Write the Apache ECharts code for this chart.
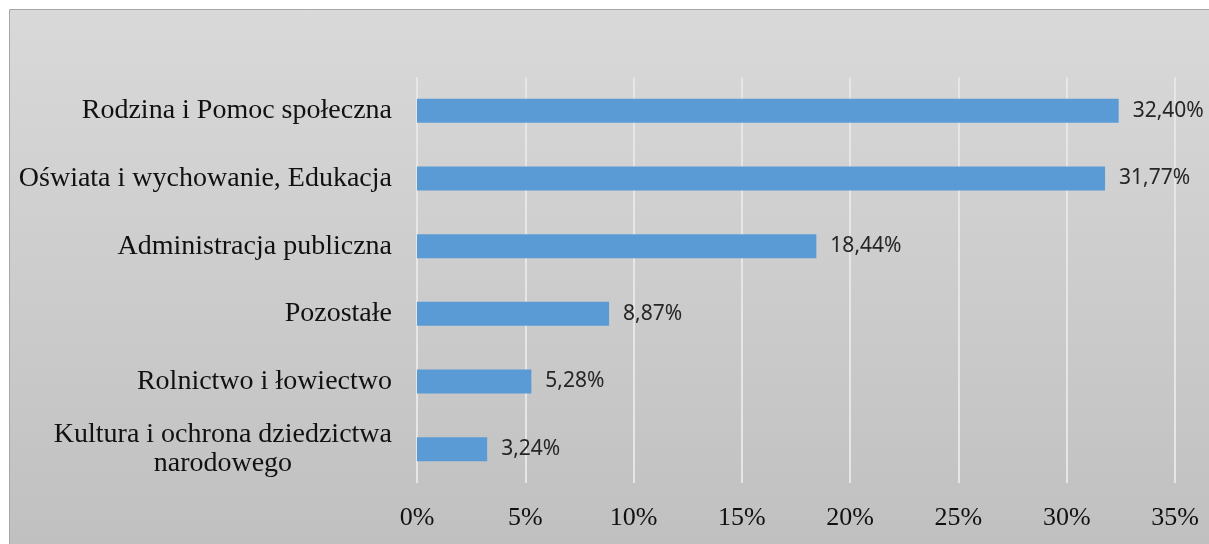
<!DOCTYPE html>
<html>
<head>
<meta charset="utf-8">
<script src="https://cdn.jsdelivr.net/npm/echarts@6/dist/echarts.min.js"></script>
<style>
  html, body { margin: 0; padding: 0; background: #fff; }
  #chart { width: 1209px; height: 544px; }
</style>
</head>
<body>
<div id="chart"></div>
<script>
  // categories listed bottom to top (category axis starts at the bottom)
  var categories = [
    'Kultura i ochrona dziedzictwa\nnarodowego',
    'Rolnictwo i łowiectwo',
    'Pozostałe',
    'Administracja publiczna',
    'Oświata i wychowanie, Edukacja',
    'Rodzina i Pomoc społeczna'
  ];
  var shares = [3.24, 5.28, 8.87, 18.44, 31.77, 32.40];
  var tickStep = 5;
  var tickMax = 35;

  var chart = echarts.init(document.getElementById('chart'));
  chart.setOption({
    animation: false,
    backgroundColor: '#fff',
    graphic: [{
      type: 'rect',
      z: -10,
      silent: true,
      shape: { x: 9.5, y: 9.5, width: 1210, height: 540 },
      style: {
        fill: new echarts.graphic.LinearGradient(0, 0, 0, 1, [
          { offset: 0, color: '#d9d9d9' },
          { offset: 1, color: '#c0c0c0' }
        ]),
        stroke: '#a6a6a6',
        lineWidth: 1
      }
    }],
    grid: { left: 417, right: 34, top: 77, bottom: 61 },
    xAxis: {
      type: 'value',
      min: 0,
      max: tickMax,
      interval: tickStep,
      axisLine: { show: false },
      axisTick: { show: false },
      splitLine: { lineStyle: { color: '#e6e6e6', width: 2 } },
      axisLabel: {
        margin: 22,
        fontFamily: 'Liberation Serif',
        fontSize: 26,
        color: '#111',
        formatter: function (v) { return v + '%'; }
      }
    },
    yAxis: {
      type: 'category',
      data: categories,
      axisLine: { show: false },
      axisTick: { show: false },
      axisLabel: {
        margin: 25,
        fontFamily: 'Liberation Serif',
        fontSize: 28,
        color: '#111',
        lineHeight: 29,
        formatter: function (v) {
          return v.indexOf('\n') >= 0 ? '{c|' + v.split('\n').join('}\n{c|') + '}' : v;
        },
        rich: {
          c: { align: 'center', fontFamily: 'Liberation Serif', fontSize: 28, color: '#111', lineHeight: 29 }
        }
      }
    },
    series: [{
      type: 'bar',
      data: shares,
      barWidth: 24,
      itemStyle: { color: '#5b9bd5' },
      label: {
        show: true,
        position: 'right',
        distance: 14,
        fontFamily: 'Noto Sans',
        fontSize: 21,
        color: '#262626',
        formatter: function (p) { return p.value.toFixed(2).replace('.', ',') + '%'; }
      }
    }]
  });
</script>
</body>
</html>
